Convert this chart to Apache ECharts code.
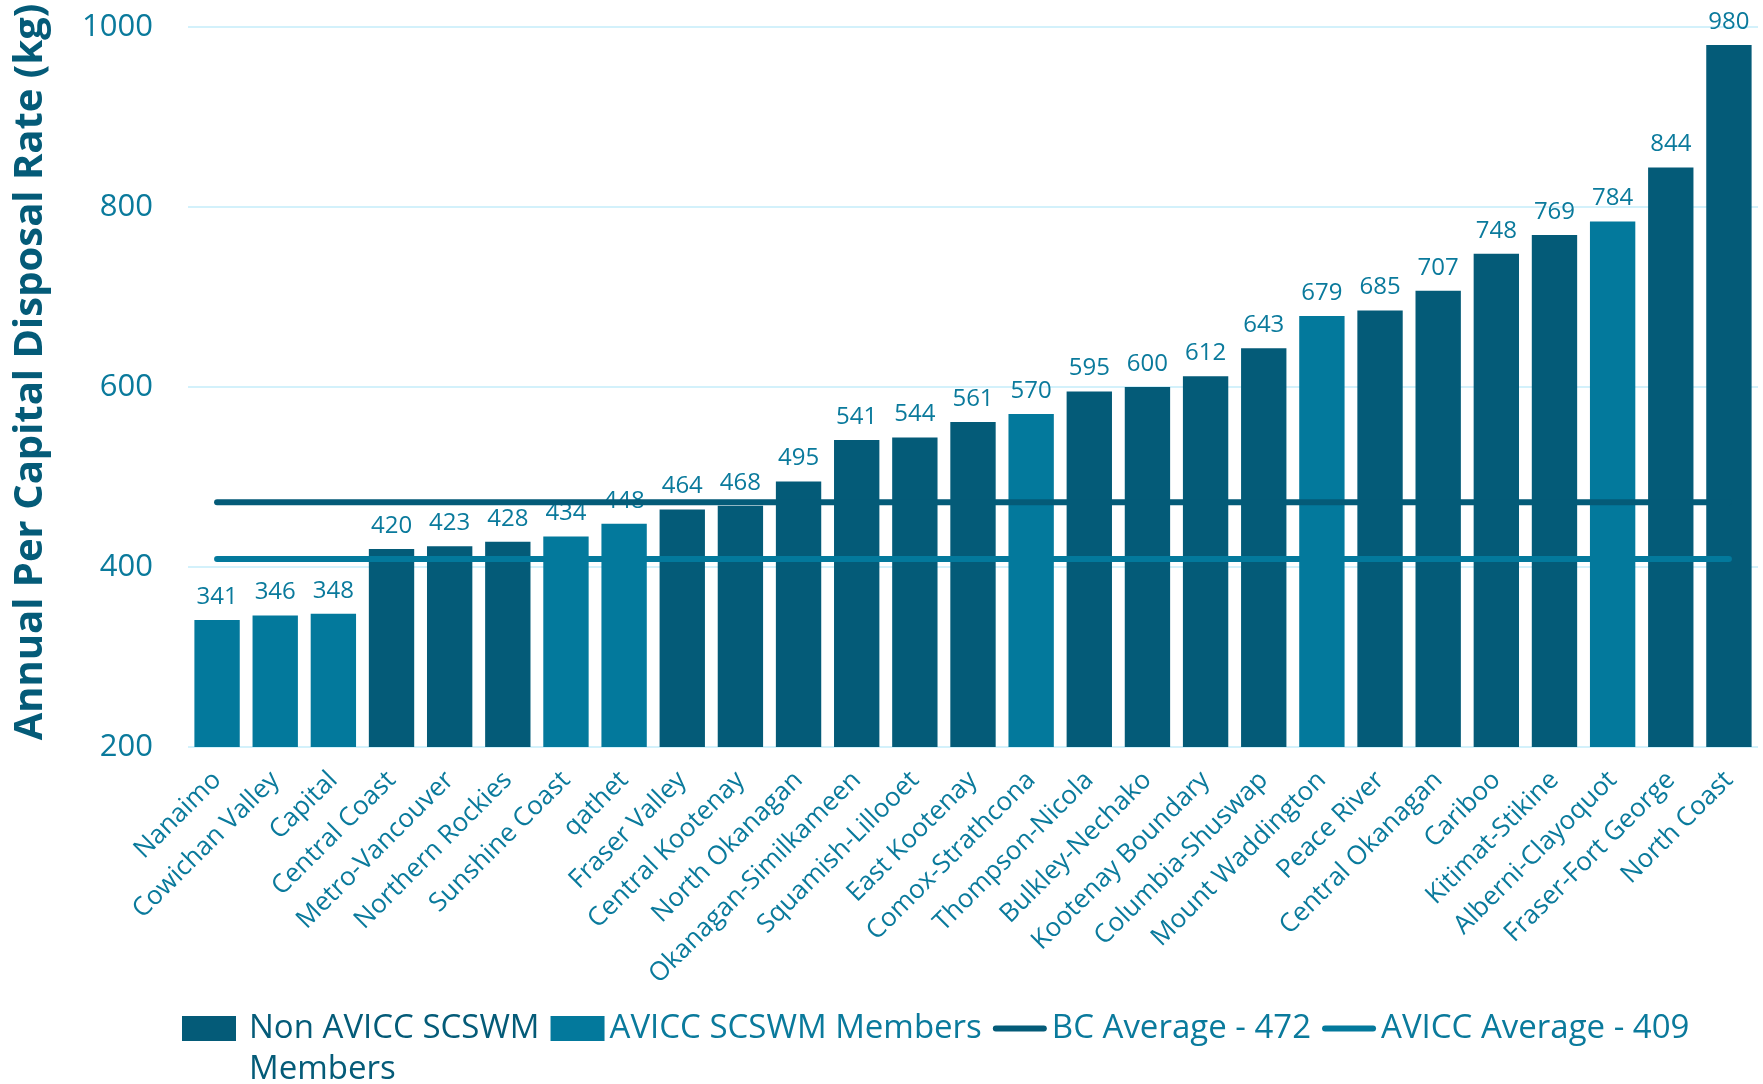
<!DOCTYPE html>
<html>
<head>
<meta charset="utf-8">
<script src="https://cdn.jsdelivr.net/npm/echarts@6/dist/echarts.min.js"></script>
<style>
  html, body { margin: 0; padding: 0; background: #ffffff; }
  #chart { width: 1763px; height: 1084px; }
</style>
</head>
<body>
<div id="chart"></div>
<script>
// ---- Data ----
const categories = [
  'Nanaimo', 'Cowichan Valley', 'Capital', 'Central Coast', 'Metro-Vancouver',
  'Northern Rockies', 'Sunshine Coast', 'qathet', 'Fraser Valley', 'Central Kootenay',
  'North Okanagan', 'Okanagan-Similkameen', 'Squamish-Lillooet', 'East Kootenay',
  'Comox-Strathcona', 'Thompson-Nicola', 'Bulkley-Nechako', 'Kootenay Boundary',
  'Columbia-Shuswap', 'Mount Waddington', 'Peace River', 'Central Okanagan',
  'Cariboo', 'Kitimat-Stikine', 'Alberni-Clayoquot', 'Fraser-Fort George', 'North Coast'
];
const disposalRates = [
  341, 346, 348, 420, 423, 428, 434, 448, 464, 468,
  495, 541, 544, 561, 570, 595, 600, 612, 643, 679,
  685, 707, 748, 769, 784, 844, 980
];
const isAviccMember = [
  true, true, true, false, false, false, true, true, false, false,
  false, false, false, false, true, false, false, false, false, true,
  false, false, false, false, true, false, false
];
const bcAverage = 472;
const aviccAverage = 409;
const yTicks = { min: 200, max: 1000, interval: 200 };

const seriesNames = [
  'Non AVICC SCSWM Members',
  'AVICC SCSWM Members',
  'BC Average - 472',
  'AVICC Average - 409'
];

// ---- Colours ----
const DARK = '#045B78';
const LIGHT = '#03799C';
const TEXT = '#0A7A9C';
const GRID = '#D3F1FB';

const nonAviccData = disposalRates.map((v, i) => isAviccMember[i] ? '-' : v);
const aviccData = disposalRates.map((v, i) => isAviccMember[i] ? v : '-');
const firstCat = categories[0];
const lastCat = categories[categories.length - 1];

const barLabel = {
  show: true,
  position: 'top',
  distance: 11,
  color: TEXT,
  fontFamily: 'Open Sans',
  fontSize: 24
};

const lineIcon = 'path://M3,0 L51,0 A3,3 0 0 1 51,6 L3,6 A3,3 0 0 1 3,0 Z';

const chart = echarts.init(document.getElementById('chart'), null, { renderer: 'canvas' });
chart.setOption({
  animation: false,
  backgroundColor: '#ffffff',
  grid: { left: 188, right: 5, top: 27, bottom: 337, containLabel: false },
  xAxis: {
    type: 'category',
    data: categories,
    axisLine: { show: false },
    axisTick: { show: false },
    axisLabel: {
      interval: 0,
      rotate: 45,
      margin: 29,
      color: TEXT,
      fontFamily: 'Open Sans',
      fontSize: 26
    }
  },
  yAxis: {
    type: 'value',
    min: yTicks.min,
    max: yTicks.max,
    interval: yTicks.interval,
    name: 'Annual Per Capital Disposal Rate (kg)',
    nameLocation: 'middle',
    nameGap: 137,
    nameTextStyle: {
      color: DARK,
      fontFamily: 'Open Sans',
      fontWeight: 'bold',
      fontSize: 40,
      padding: [0, 0, 0, 30]
    },
    axisLine: { show: false },
    axisTick: { show: false },
    axisLabel: {
      margin: 35,
      color: TEXT,
      fontFamily: 'Open Sans',
      fontSize: 31,
      formatter: function (v) { return String(v); }
    },
    splitLine: { lineStyle: { color: GRID, width: 2 } }
  },
  legend: {
    left: 182,
    top: 1012,
    padding: 0,
    itemWidth: 54,
    itemHeight: 25,
    itemGap: 11,
    textStyle: { fontFamily: 'Open Sans', fontSize: 33, color: TEXT },
    data: [
      { name: seriesNames[0], icon: 'rect',
        textStyle: { color: DARK, padding: [0, 20, 0, 8] } },
      { name: seriesNames[1], icon: 'rect' },
      { name: seriesNames[2], icon: lineIcon },
      { name: seriesNames[3], icon: lineIcon }
    ],
    formatter: function (name) {
      return name === seriesNames[0] ? 'Non AVICC SCSWM' : name;
    }
  },
  graphic: [
    {
      type: 'text',
      x: 249,
      y: 1070,
      style: {
        text: 'Members',
        fill: DARK,
        font: '33px "Open Sans"',
        verticalAlign: 'middle',
        align: 'left'
      }
    }
  ],
  series: [
    {
      name: seriesNames[0],
      type: 'bar',
      stack: 'rates',
      barCategoryGap: '22%',
      data: nonAviccData,
      itemStyle: { color: DARK },
      label: barLabel
    },
    {
      name: seriesNames[1],
      type: 'bar',
      stack: 'rates',
      barCategoryGap: '22%',
      data: aviccData,
      itemStyle: { color: LIGHT },
      label: barLabel
    },
    {
      name: seriesNames[2],
      type: 'line',
      z: 5,
      symbol: 'none',
      data: [[firstCat, bcAverage], [lastCat, bcAverage]],
      lineStyle: { color: DARK, width: 6, cap: 'round' },
      itemStyle: { color: DARK }
    },
    {
      name: seriesNames[3],
      type: 'line',
      z: 5,
      symbol: 'none',
      data: [[firstCat, aviccAverage], [lastCat, aviccAverage]],
      lineStyle: { color: LIGHT, width: 6, cap: 'round' },
      itemStyle: { color: LIGHT }
    }
  ]
});
</script>
</body>
</html>
